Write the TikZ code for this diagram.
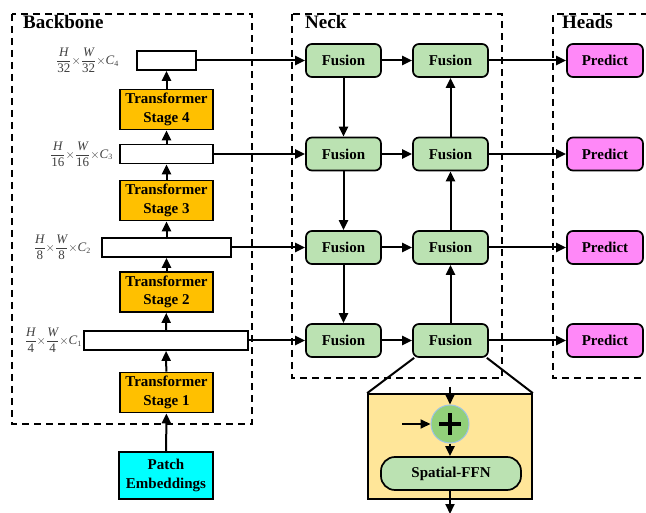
\documentclass[tikz,border=0pt]{standalone}
\usepackage{fontspec}
\setmainfont{Liberation Serif}
\usetikzlibrary{arrows.meta,calc}
\definecolor{stageorange}{HTML}{FFC000}
\definecolor{fusegreen}{HTML}{BBE2B2}
\definecolor{predpink}{HTML}{FF88F8}
\definecolor{patchcyan}{HTML}{00FFFF}
\definecolor{zoomyellow}{HTML}{FFE699}
\definecolor{plusgreen}{HTML}{92D07A}
\definecolor{plusedge}{HTML}{9DC3E6}
\definecolor{labelgray}{HTML}{404040}
\newcommand{\featlab}[2]{\fontsize{13}{15}\selectfont$\displaystyle\frac{\mbox{\itshape H}}{\mbox{#1}}{\times}\frac{\mbox{\itshape W}}{\mbox{#1}}{\times}\mbox{\itshape C}_{\mbox{\fontsize{8}{9}\selectfont #2}}$}
\tikzset{
  arr/.style={-{Triangle[length=10pt,width=9pt]}, line width=2pt},
  plainline/.style={line width=2pt},
  dashbox/.style={draw, line width=2.2pt, dash pattern=on 7pt off 5pt},
  title/.style={anchor=base west, inner sep=0, font=\fontsize{19}{21}\selectfont\bfseries},
  feat/.style={draw, line width=1.7pt, fill=white, minimum height=19pt, inner sep=0},
  featlabel/.style={anchor=east, inner sep=0, text=labelgray},
  stagebox/.style={draw, line width=1.7pt, fill=stageorange, minimum width=93pt, minimum height=40pt, inner sep=0, align=center, font=\fontsize{15}{18.5}\selectfont\bfseries},
  patchbox/.style={draw, line width=1.7pt, fill=patchcyan, minimum width=94pt, minimum height=47pt, inner sep=0, align=center, font=\fontsize{15}{19}\selectfont\bfseries},
  fusion/.style={draw, line width=1.7pt, fill=fusegreen, rounded corners=6pt, minimum width=75pt, minimum height=33pt, inner sep=0, font=\fontsize{15}{17}\selectfont\bfseries},
  predict/.style={draw, line width=1.7pt, fill=predpink, rounded corners=6pt, minimum width=76pt, minimum height=33pt, inner sep=0, font=\fontsize{15}{17}\selectfont\bfseries},
  zoombox/.style={draw, line width=1.7pt, fill=zoomyellow, minimum width=164pt, minimum height=105pt, inner sep=0},
  plusnode/.style={circle, draw=plusedge, line width=1pt, fill=plusgreen, minimum size=38pt, inner sep=0},
  ffnbox/.style={draw, line width=1.7pt, fill=fusegreen, rounded corners=14pt, minimum width=140pt, minimum height=33pt, inner sep=0, font=\fontsize{15}{17}\selectfont\bfseries},
}
\begin{document}
\begin{tikzpicture}[x=1pt,y=-1pt]
\useasboundingbox (0,0) rectangle (646,513);
\clip (0,0) rectangle (646,513);

% dashed group boxes
\draw[dashbox] (12,14) rectangle (252,424);
\draw[dashbox] (292,14) rectangle (502,378);
\draw[dashbox] (660,14) -- (553,14) -- (553,378) -- (660,378);
\node[title] (tback) at (23,29) {Backbone};
\node[title] (tneck) at (305,29) {Neck};
\node[title] (thead) at (562,29) {Heads};

% backbone
\node[patchbox] (pe) at (166,475.5) {Patch\\Embeddings};
\node[stagebox] (s1) at (166.5,392.5) {Transformer\\Stage 1};
\node[feat, minimum width=164pt] (c1) at (166,340.5) {};
\node[stagebox] (s2) at (166.5,292) {Transformer\\Stage 2};
\node[feat, minimum width=129pt] (c2) at (166.5,247.5) {};
\node[stagebox] (s3) at (166.5,200.5) {Transformer\\Stage 3};
\node[feat, minimum width=93pt] (c3) at (166.5,154) {};
\node[stagebox] (s4) at (166.5,109.5) {Transformer\\Stage 4};
\node[feat, minimum width=59pt] (c4) at (166.5,60.5) {};

\node[featlabel] (l4) at (119,60.5) {\featlab{32}{4}};
\node[featlabel] (l3) at (113,154) {\featlab{16}{3}};
\node[featlabel] (l2) at (91,247.5) {\featlab{8}{2}};
\node[featlabel] (l1) at (82,340.5) {\featlab{4}{1}};

\draw[arr] (pe) -- (s1);
\draw[arr] (s1) -- (c1);
\draw[arr] (c1) -- (s2);
\draw[arr] (s2) -- (c2);
\draw[arr] (c2) -- (s3);
\draw[arr] (s3) -- (c3);
\draw[arr] (c3) -- (s4);
\draw[arr] (s4) -- (c4);

% neck
\node[fusion] (f11) at (343.5,60.5) {Fusion};
\node[fusion] (f12) at (450.5,60.5) {Fusion};
\node[fusion] (f21) at (343.5,154) {Fusion};
\node[fusion] (f22) at (450.5,154) {Fusion};
\node[fusion] (f31) at (343.5,247.5) {Fusion};
\node[fusion] (f32) at (450.5,247.5) {Fusion};
\node[fusion] (f41) at (343.5,340.5) {Fusion};
\node[fusion] (f42) at (450.5,340.5) {Fusion};

% heads
\node[predict] (p1) at (605,60.5) {Predict};
\node[predict] (p2) at (605,154) {Predict};
\node[predict] (p3) at (605,247.5) {Predict};
\node[predict] (p4) at (605,340.5) {Predict};

\draw[arr] (c4) -- (f11);
\draw[arr] (c3) -- (f21);
\draw[arr] (c2) -- (f31);
\draw[arr] (c1) -- (f41);
\draw[arr] (f11) -- (f12);
\draw[arr] (f21) -- (f22);
\draw[arr] (f31) -- (f32);
\draw[arr] (f41) -- (f42);
\draw[arr] (f11) -- (f21);
\draw[arr] (f21) -- (f31);
\draw[arr] (f31) -- (f41);
\draw[arr] (f42) -- (f32);
\draw[arr] (f32) -- (f22);
\draw[arr] (f22) -- (f12);
\draw[arr] (f12) -- (p1);
\draw[arr] (f22) -- (p2);
\draw[arr] (f32) -- (p3);
\draw[arr] (f42) -- (p4);

% zoom detail
\node[zoombox] (zb) at (450,446.5) {};
\draw[plainline] ($(f42.south west)+(2,0)$) -- (zb.north west);
\draw[plainline] ($(f42.south east)+(-2,0)$) -- (zb.north east);
\node[plusnode] (pl) at (450,424) {};
\draw[line width=3.6pt] ($(pl.center)+(-11,0)$) -- ($(pl.center)+(11,0)$);
\draw[line width=3.6pt] ($(pl.center)+(0,-11)$) -- ($(pl.center)+(0,11)$);
\node[ffnbox] (ffn) at (451,473.5) {Spatial-FFN};
\coordinate (intop) at (450,387);
\coordinate (inleft) at (402,424);
\coordinate (outbot) at (450,514);
\draw[arr] (intop) -- (pl);
\draw[arr] (inleft) -- (pl);
\draw[arr] (pl) -- (pl |- ffn.north);
\draw[arr] (ffn.south -| pl) -- (outbot);
\end{tikzpicture}
\end{document}
